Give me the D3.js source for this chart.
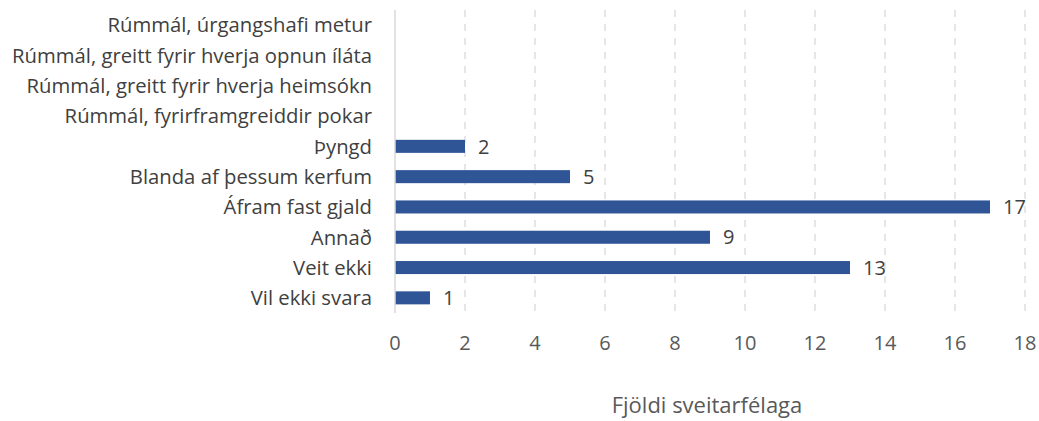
<!DOCTYPE html>
<html>
<head>
<meta charset="utf-8">
<script src="https://cdn.jsdelivr.net/npm/d3@7"></script>
<style>
  body { margin: 0; background: #fff; }
  svg { display: block; font-family: "Open Sans", Lato, sans-serif; }
</style>
</head>
<body>
<svg id="chart" width="1039" height="421"></svg>
<script>
// data
var categories = [
    'Rúmmál, úrgangshafi metur',
    'Rúmmál, greitt fyrir hverja opnun íláta',
    'Rúmmál, greitt fyrir hverja heimsókn',
    'Rúmmál, fyrirframgreiddir pokar',
    'Þyngd',
    'Blanda af þessum kerfum',
    'Áfram fast gjald',
    'Annað',
    'Veit ekki',
    'Vil ekki svara'
];
var counts = [null, null, null, null, 2, 5, 17, 9, 13, 1];
var xTicks = [0, 2, 4, 6, 8, 10, 12, 14, 16, 18];
var xTitle = 'Fjöldi sveitarfélaga';

var svg = d3.select('#chart');
var plotLeft = 395, plotRight = 1025, plotTop = 10, plotBottom = 313;

var x = d3.scaleLinear().domain([0, 18]).range([plotLeft, plotRight]);
var y = d3.scaleBand().domain(categories).range([plotTop, plotBottom]).paddingInner(0.57).paddingOuter(0.285);

// gridlines
svg.append('g').selectAll('line')
    .data(xTicks.slice(1))
    .enter().append('line')
    .attr('x1', function(d) { return x(d); })
    .attr('x2', function(d) { return x(d); })
    .attr('y1', plotTop)
    .attr('y2', plotBottom)
    .attr('stroke', '#d9d9d9')
    .attr('stroke-width', 1.3)
    .attr('stroke-dasharray', '7,7');

// bars
var rows = categories.map(function(c, i) { return { cat: c, val: counts[i] }; });
var filled = rows.filter(function(r) { return r.val != null; });

svg.append('g').selectAll('rect')
    .data(filled)
    .enter().append('rect')
    .attr('x', x(0))
    .attr('y', function(d) { return y(d.cat); })
    .attr('width', function(d) { return x(d.val) - x(0); })
    .attr('height', y.bandwidth())
    .attr('fill', '#2f5597');

// value labels
svg.append('g').selectAll('text')
    .data(filled)
    .enter().append('text')
    .attr('x', function(d) { return x(d.val) + 13; })
    .attr('y', function(d) { return y(d.cat) + y.bandwidth() / 2; })
    .attr('dy', '0.36em')
    .attr('font-size', 20)
    .attr('fill', '#404040')
    .text(function(d) { return d.val; });

// vertical axis line
svg.append('line')
    .attr('x1', plotLeft).attr('x2', plotLeft)
    .attr('y1', plotTop).attr('y2', plotBottom)
    .attr('stroke', '#d9d9d9')
    .attr('stroke-width', 1.5);

// category labels
svg.append('g').selectAll('text')
    .data(categories)
    .enter().append('text')
    .attr('x', plotLeft - 23)
    .attr('y', function(d) { return y(d) + y.bandwidth() / 2; })
    .attr('dy', '0.36em')
    .attr('text-anchor', 'end')
    .attr('font-size', 20.3)
    .attr('fill', '#404040')
    .text(function(d) { return d; });

// x tick labels
svg.append('g').selectAll('text')
    .data(xTicks)
    .enter().append('text')
    .attr('x', function(d) { return x(d); })
    .attr('y', 343)
    .attr('dy', '0.36em')
    .attr('text-anchor', 'middle')
    .attr('font-size', 20)
    .attr('fill', '#595959')
    .text(function(d) { return d; });

// axis title
svg.append('text')
    .attr('x', 707)
    .attr('y', 405)
    .attr('dy', '0.36em')
    .attr('text-anchor', 'middle')
    .attr('font-size', 22)
    .attr('fill', '#595959')
    .text(xTitle);
</script>
</body>
</html>
